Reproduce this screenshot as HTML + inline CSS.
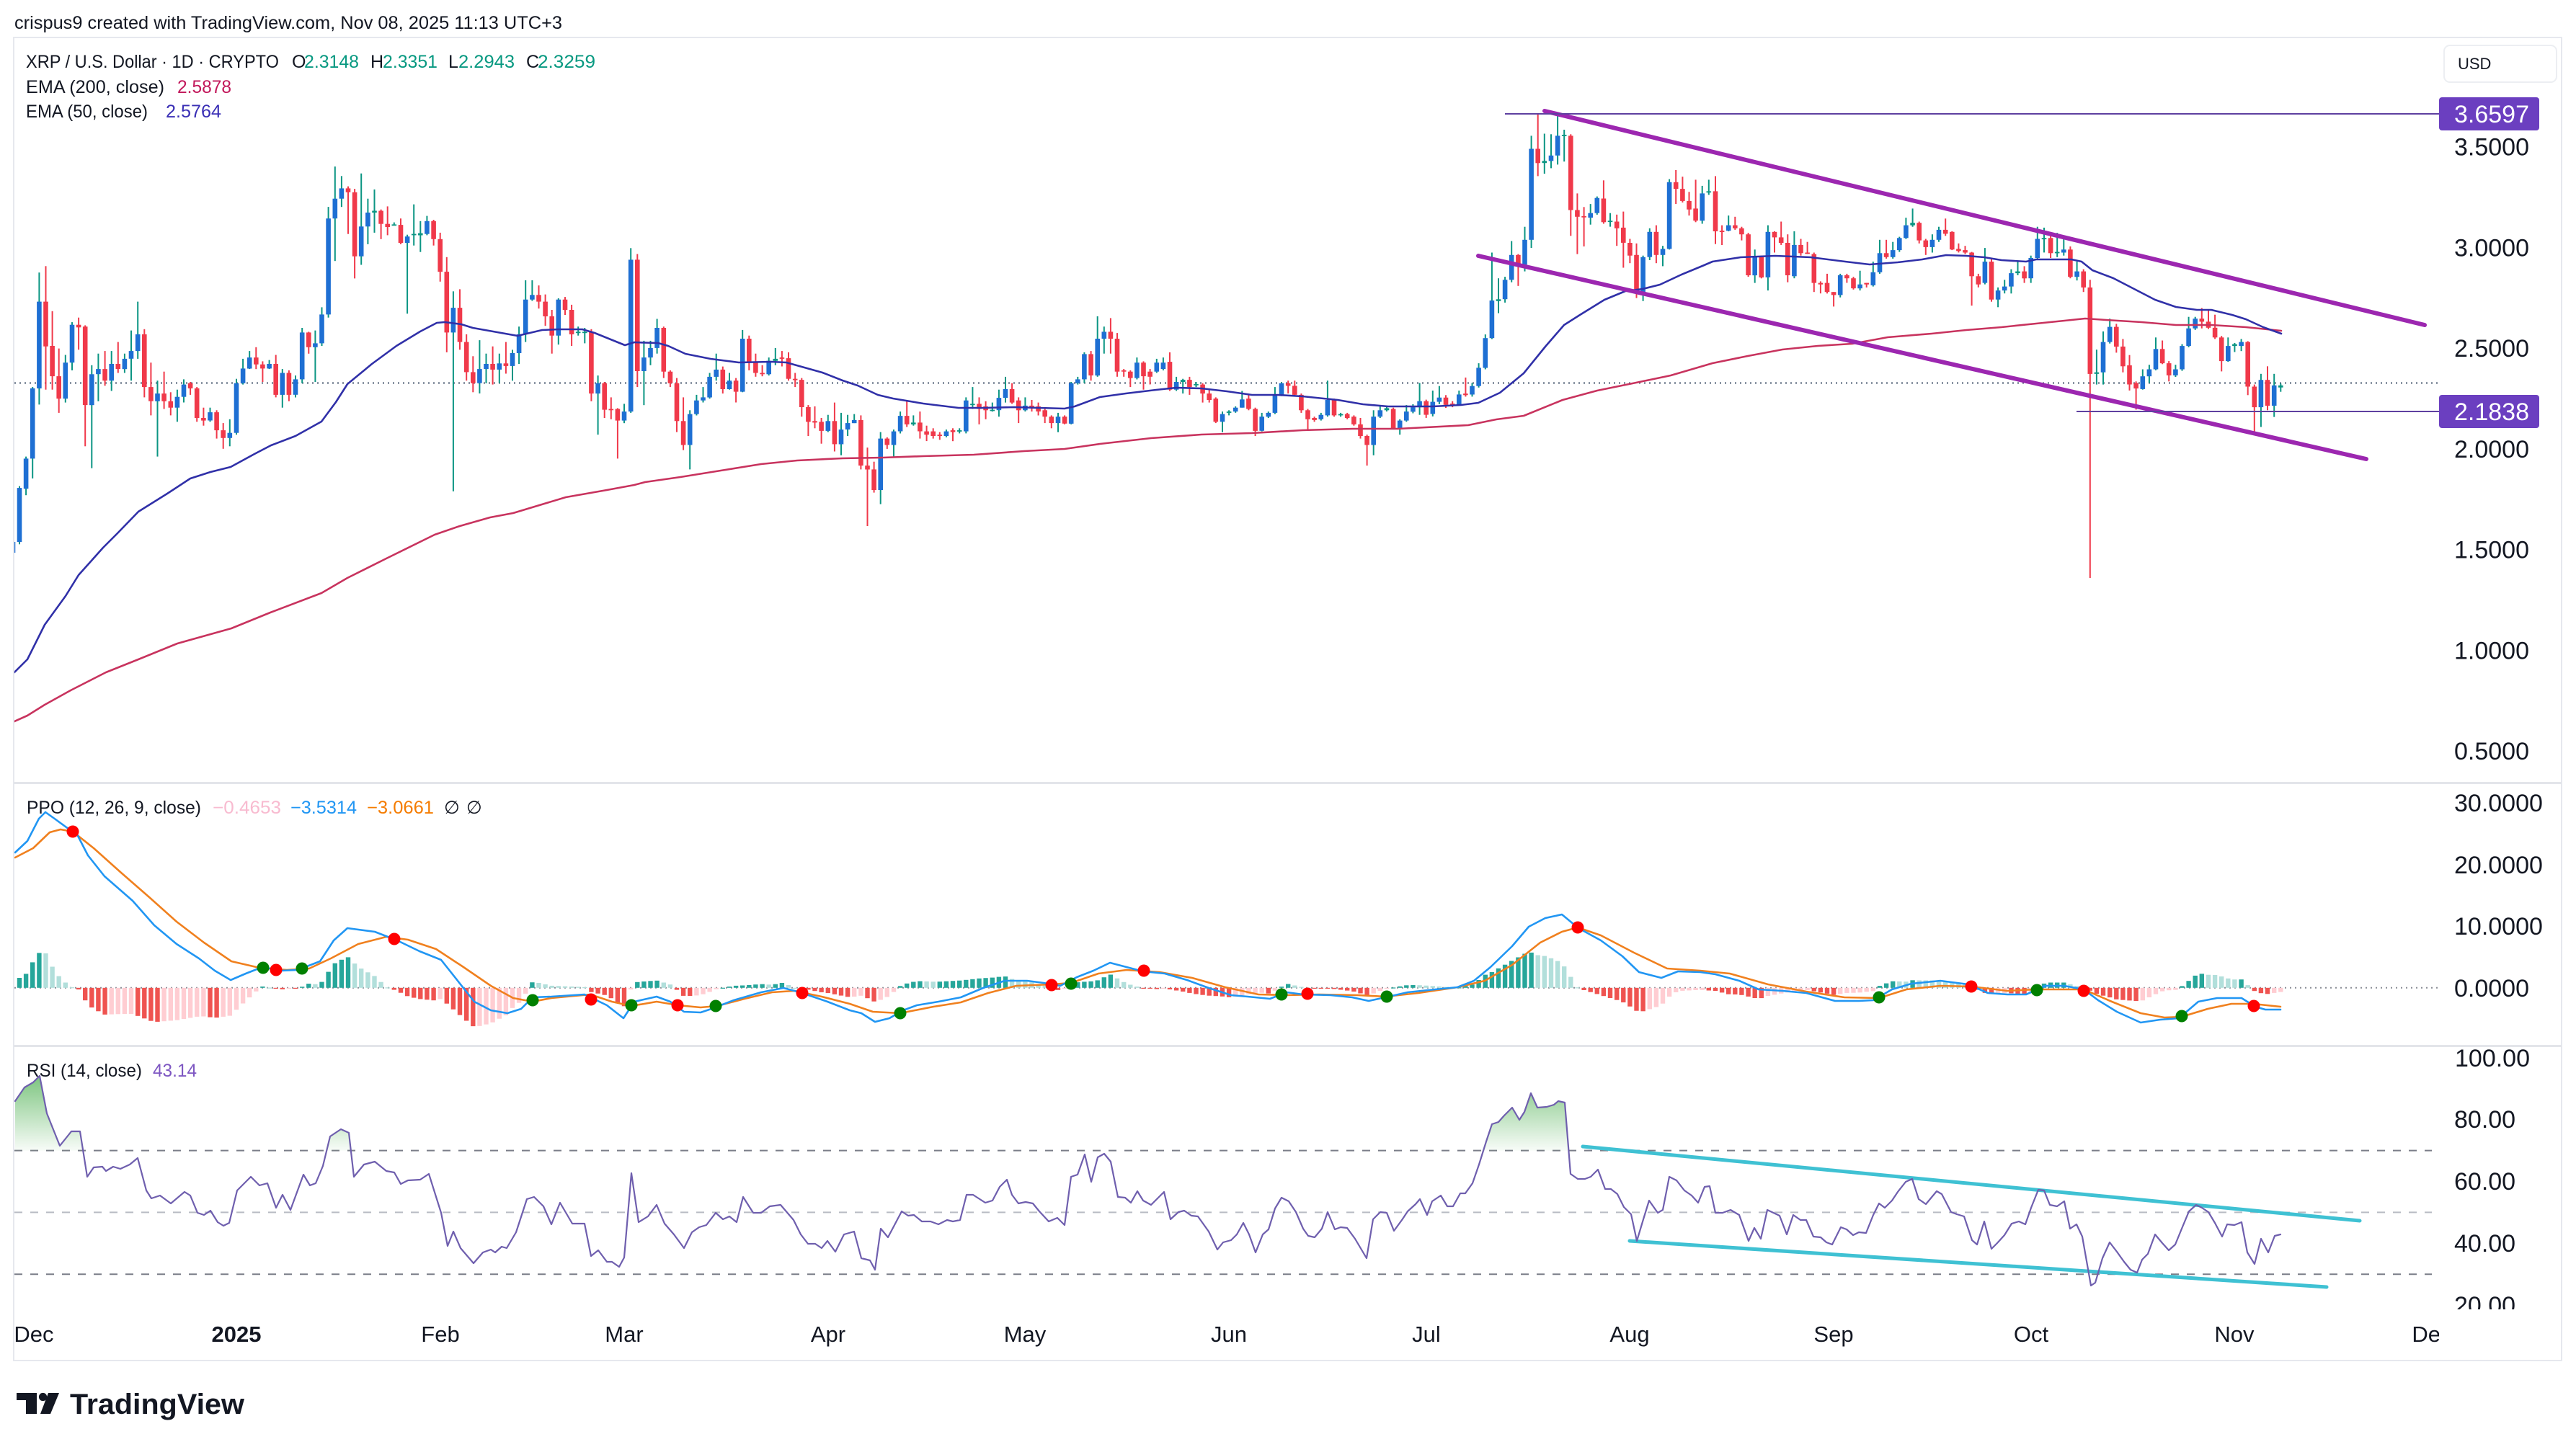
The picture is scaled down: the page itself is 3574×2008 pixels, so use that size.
<!DOCTYPE html>
<html><head><meta charset="utf-8">
<style>
html,body{margin:0;padding:0;background:#fff;}
body{width:3574px;height:2008px;overflow:hidden;position:relative;}
svg{position:absolute;left:0;top:0;}
</style></head><body>
<svg id="c" width="3574" height="2008" viewBox="0 0 3574 2008" xmlns="http://www.w3.org/2000/svg" font-family="'Liberation Sans', Arial, sans-serif">
<defs>
<clipPath id="cm"><rect x="20" y="53" width="3364" height="1033"/></clipPath>
<clipPath id="cp"><rect x="20" y="1088" width="3364" height="362"/></clipPath>
<clipPath id="cr"><rect x="20" y="1453" width="3364" height="364"/></clipPath>
<clipPath id="cra"><rect x="3386" y="1453" width="166" height="364"/></clipPath>
<clipPath id="cob"><rect x="20" y="1453" width="3364" height="143.6"/></clipPath>
<clipPath id="cx"><rect x="0" y="1820" width="3384" height="66"/></clipPath>
<linearGradient id="gg" x1="0" y1="1490" x2="0" y2="1597" gradientUnits="userSpaceOnUse">
<stop offset="0" stop-color="#4caf50" stop-opacity="0.75"/><stop offset="1" stop-color="#4caf50" stop-opacity="0.04"/></linearGradient>
</defs>
<rect x="0" y="0" width="3574" height="2008" fill="#fff"/>
<rect x="19" y="52" width="3535" height="1836" fill="none" stroke="#e6e8ee" stroke-width="2"/>
<line x1="19" y1="1086.5" x2="3554" y2="1086.5" stroke="#e3e5ea" stroke-width="3"/>
<line x1="19" y1="1451.5" x2="3554" y2="1451.5" stroke="#e3e5ea" stroke-width="3"/>

<text x="20" y="40" font-size="25" fill="#131722" textLength="760" lengthAdjust="spacingAndGlyphs">crispus9 created with TradingView.com, Nov 08, 2025 11:13 UTC+3</text>

<g font-size="25" fill="#131722">
<text x="36" y="94" textLength="351" lengthAdjust="spacingAndGlyphs">XRP / U.S. Dollar · 1D · CRYPTO</text>
<text x="405" y="94">O</text><text x="422" y="94" fill="#089981" textLength="76" lengthAdjust="spacingAndGlyphs">2.3148</text>
<text x="514" y="94">H</text><text x="531" y="94" fill="#089981" textLength="76" lengthAdjust="spacingAndGlyphs">2.3351</text>
<text x="622" y="94">L</text><text x="636" y="94" fill="#089981" textLength="78" lengthAdjust="spacingAndGlyphs">2.2943</text>
<text x="730" y="94">C</text><text x="746" y="94" fill="#089981" textLength="80" lengthAdjust="spacingAndGlyphs">2.3259</text>
<text x="36" y="129" textLength="192" lengthAdjust="spacingAndGlyphs">EMA (200, close)</text>
<text x="246" y="129" fill="#c2185b" textLength="75" lengthAdjust="spacingAndGlyphs">2.5878</text>
<text x="36" y="163" textLength="169" lengthAdjust="spacingAndGlyphs">EMA (50, close)</text>
<text x="230" y="163" fill="#3a2fb5" textLength="77" lengthAdjust="spacingAndGlyphs">2.5764</text>

<text x="37" y="1129" textLength="242" lengthAdjust="spacingAndGlyphs">PPO (12, 26, 9, close)</text>
<text x="295" y="1129" fill="#f8bbd0" textLength="95" lengthAdjust="spacingAndGlyphs">−0.4653</text>
<text x="403" y="1129" fill="#2196f3" textLength="92" lengthAdjust="spacingAndGlyphs">−3.5314</text>
<text x="509" y="1129" fill="#f57c00" textLength="93" lengthAdjust="spacingAndGlyphs">−3.0661</text>
<text x="616" y="1129">∅</text><text x="647" y="1129">∅</text>
<text x="37" y="1494" textLength="160" lengthAdjust="spacingAndGlyphs">RSI (14, close)</text>
<text x="212" y="1494" fill="#7e57c2" textLength="61" lengthAdjust="spacingAndGlyphs">43.14</text>
</g>

<!-- USD box -->
<rect x="3391" y="63" width="156" height="51" rx="8" fill="#fff" stroke="#eceef2" stroke-width="2"/>
<text x="3410" y="96" font-size="22" fill="#131722">USD</text>

<!-- price axis labels -->
<g font-size="34" fill="#131722">
<text x="3405" y="215.7">3.5000</text>
<text x="3405" y="355.5">3.0000</text>
<text x="3405" y="495.2">2.5000</text>
<text x="3405" y="635">2.0000</text>
<text x="3405" y="774.7">1.5000</text>
<text x="3405" y="914.5">1.0000</text>
<text x="3405" y="1054.2">0.5000</text>
<text x="3405" y="1126">30.0000</text>
<text x="3405" y="1212">20.0000</text>
<text x="3405" y="1297">10.0000</text>
<text x="3405" y="1383">0.0000</text>
<g clip-path="url(#cra)">
<text x="3406" y="1480">100.00</text>
<text x="3405" y="1565">80.00</text>
<text x="3405" y="1651">60.00</text>
<text x="3405" y="1737">40.00</text>
<text x="3405" y="1823">20.00</text>
</g>
</g>

<!-- time axis -->
<g font-size="31" fill="#131722" text-anchor="middle" clip-path="url(#cx)">
<text x="47" y="1862">Dec</text>
<text x="328" y="1862" font-weight="bold">2025</text>
<text x="611" y="1862">Feb</text>
<text x="866" y="1862">Mar</text>
<text x="1149" y="1862">Apr</text>
<text x="1422" y="1862">May</text>
<text x="1705" y="1862">Jun</text>
<text x="1979" y="1862">Jul</text>
<text x="2261" y="1862">Aug</text>
<text x="2544" y="1862">Sep</text>
<text x="2818" y="1862">Oct</text>
<text x="3100" y="1862">Nov</text>
<text x="3374" y="1862">Dec</text>
</g>

<!-- logo -->
<g fill="#131722">
<rect x="23" y="1933" width="28" height="10"/>
<rect x="36" y="1933" width="15" height="29"/>
<circle cx="59.5" cy="1938.5" r="5.6"/>
<polygon points="67,1933 82,1933 70,1962 56,1962"/>
<text x="97" y="1962" font-size="40" font-weight="bold" textLength="242" lengthAdjust="spacingAndGlyphs">TradingView</text>
</g>

<!-- static pane lines -->
<line x1="20" y1="531.5" x2="3384" y2="531.5" stroke="#4a5a70" stroke-width="2" stroke-dasharray="2 5"/>
<line x1="20" y1="1370.8" x2="3383" y2="1370.8" stroke="#8a8d96" stroke-width="2" stroke-dasharray="2 5"/>
<line x1="20" y1="1596.6" x2="3374" y2="1596.6" stroke="#7b7e88" stroke-width="2" stroke-dasharray="11 11"/>
<line x1="20" y1="1682.4" x2="3374" y2="1682.4" stroke="#b9bcc4" stroke-width="2" stroke-dasharray="11 11"/>
<line x1="20" y1="1768.2" x2="3374" y2="1768.2" stroke="#7b7e88" stroke-width="2" stroke-dasharray="11 11"/>

<g id="dyn"></g>

<!-- price labels -->
<line x1="2088" y1="158" x2="3384" y2="158" stroke="#5e40a0" stroke-width="2"/>
<line x1="2881" y1="571" x2="3384" y2="571" stroke="#5e40a0" stroke-width="2"/>
<rect x="3384" y="135" width="139" height="46" rx="4" fill="#6b3fc0"/>
<text x="3405" y="170" font-size="34" fill="#fff">3.6597</text>
<rect x="3384" y="548" width="139" height="46" rx="4" fill="#6b3fc0"/>
<text x="3405" y="583" font-size="34" fill="#fff">2.1838</text>
</svg>
<script>
(function(){
var g=document.getElementById('dyn');
var h='';
function X(i){return 27+(i-1)*9.12;}
function candles(str,base,k,start){
  var items=str.split(';');var n=0;
  for(var j=0;j<items.length;j++){var t=items[j].trim();if(!t)continue;var p=t.split(',');
    var i=start+n;n++;var x=X(i);var up=p[0]=='u';
    var bt=base+k*(+p[1]),bb=base+k*(+p[2]),wt=base+k*(+p[3]),wb=base+k*(+p[4]);
    var wc=up?'#0b9583':'#f0394a',bc=up?'#1e6fd3':'#f0394a';
    var hh=Math.max(bb-bt,1.8);
    if(up&&hh<4)bc='#0b9583';
    h+='<rect x="'+(x-1).toFixed(1)+'" y="'+wt.toFixed(1)+'" width="2" height="'+(wb-wt).toFixed(1)+'" fill="'+wc+'"/>';
    h+='<rect x="'+(x-3.3).toFixed(1)+'" y="'+bt.toFixed(1)+'" width="6.6" height="'+hh.toFixed(1)+'" fill="'+bc+'"/>';
  }
}
var A="u,1392,1602,1385,1611;u,1278,1395,1270,1420;u,1005,1278,1000,1355;u,668,1005,555,1068;d,668,842,530,1010;d,840,958,705,1010;d,958,1045,850,1100;u,905,1045,875,1060;u,758,905,748,935;d,758,768,730,855;d,765,1070,760,1230;u,950,1070,915,1315;u,930,950,870,1055;d,930,975,860,995;u,910,975,860,1015;d,910,930,825,945;u,890,930,870,945;u,860,890,780,975;u,795,860,668,890;d,795,1000,775,1040;d,1000,1055,905,1110;u,1025,1055,975,1270;d,1025,1055,940,1085;d,1055,1080,1020,1110;u,1038,1080,1010,1135;u,990,1038,970,1060;d,985,1005,980,1030;d,1005,1120,1000,1135;d,1120,1130,1080,1150;u,1098,1130,1080,1135;d,1098,1168,1090,1200;d,1168,1198,1140,1240;u,1178,1198,1125,1230;u,985,1178,968,1185;u,928,985,890,990;u,885,928,860,930;d,885,912,845,930;d,912,928,900,980;u,910,928,895,930;d,910,1030,875,1040;u,945,1030,930,1080;d,945,1030,935,1055;u,970,1030,955,1040;u,788,970,770,985;d,788,845,785,870;u,830,845,780,980;u,718,830,690,840;u,345,718,300,730;u,268,345,143,510;u,228,268,180,300;d,228,243,220,405;d,243,492,230,578;u,376,492,170,525;u,322,376,268,445;u,315,322,232,400;d,315,366,310,425;d,366,378,298,410;u,368,371,360,372;d,370,440,345,445;u,415,440,408,715;u,405,410,290,450;u,402,410,355,475;u,355,405,335,410;d,355,425,350,450;d,425,552,400,590;d,552,788,495,865;u,692,788,628,1405;d,692,825,620,855;d,825,942,795,975;d,942,985,880,1020;u,930,985,818,1025;u,910,930,870,985;d,910,932,842,990;u,908,932,870,985;d,908,918,825,948;u,868,918,855,975;u,795,868,765,910;u,660,795,585,825;u,642,660,585,665;d,642,668,605,695;d,668,725,640,762;d,725,800,700,870;u,660,800,655,835;d,660,700,650,720;d,700,795,680,840;u,785,790,765,800;u,785,790,770,830;d,785,1025,775,1055;u,985,1025,955,1185;d,985,1088,980,1120;d,1085,1090,1040,1125;d,1085,1130,1082,1278;u,1095,1130,1065,1140;u,505,1095,460,1100;"+
"d,505,938,483,1000;u,885,938,820,1070;u,848,885,820,915;u,770,848,735,870;d,770,940,765,965;d,940,985,935,1000;d,985,1132,965,1175;d,1132,1225,1040,1245;u,1105,1225,1090,1320;u,1052,1105,1030,1110;u,1040,1052,1000,1060;u,960,1040,945,1045;u,932,960,870,975;d,932,1008,920,1025;u,975,1008,945,1010;d,975,1018,965,1060;u,812,1018,778,1020;d,812,902,800,935;d,902,945,870,960;d,945,950,915,958;u,898,950,885,955;u,890,898,848,915;d,885,890,860,920;d,888,968,865,975;d,968,972,945,1000;d,972,1078,965,1115;d,1078,1135,1070,1190;d,1132,1138,1075,1160;d,1135,1170,1120,1220;u,1132,1170,1108,1175;d,1132,1222,1060,1250;u,1165,1222,1100,1265;u,1140,1165,1108,1190;u,1128,1140,1105,1140;d,1128,1305,1110,1320;d,1305,1320,1235,1540;d,1320,1400,1290,1410;u,1200,1400,1175,1455;d,1200,1225,1195,1240;u,1172,1225,1165,1275;u,1112,1172,1095,1180;d,1112,1145,1050,1155;u,1138,1145,1110,1150;d,1138,1172,1095,1200;d,1172,1185,1150,1210;d,1172,1190,1160,1200;d,1185,1190,1175,1205;u,1172,1190,1165,1195;d,1168,1175,1160,1210;u,1168,1172,1160,1180;u,1052,1172,1040,1180;u,1065,1070,1000,1085;d,1065,1085,1040,1145;d,1075,1090,1055,1125;u,1088,1092,1060,1095;u,1042,1090,1010,1115;u,1008,1042,960,1060;d,1008,1060,985,1065;d,1052,1090,1040,1140;u,1072,1090,1040,1095;d,1072,1078,1050,1095;d,1075,1095,1060,1110;d,1090,1115,1085,1140;d,1115,1140,1110,1160;u,1115,1140,1100,1175;d,1115,1142,1110,1145;u,985,1142,980,1145;u,970,985,960,990;u,872,970,865,985;d,872,955,860,975;u,812,955,725,960;u,785,812,765,870;d,785,812,732,870;d,812,940,790,960;d,935,940,930,960;d,940,965,935,1000;u,905,965,885,970;d,905,958,900,1010;d,940,960,930,990;u,905,940,890,945;u,905,930,885,935;d,902,1010,865,1015;u,980,1010,960,1015;u,972,980,968,1025;d,972,1000,960,1030;u,988,992,980,1000;d,990,1025,985,1060;d,1025,1050,1010,1060;d,1045,1135,1040,1140;u,1105,1135,1095,1175;u,1095,1100,1090,1110;u,1080,1095,1075,1100;u,1048,1080,1015,1080;d,1045,1085,1030,1090;d,1085,1170,1080,1190;u,1115,1170,1100,1172;u,1100,1115,1095,1120;u,1030,1100,1000,1105;u,985,1030,980,1035;d,985,995,975,1025;d,995,1030,975,1035;d,1030,1090,1025,1100;d,1090,1125,1085,1170;d,1120,1128,1115,1135;u,1108,1125,1100,1130;u,1050,1110,975,1115;d,1050,1110,1045,1115;u,1105,1110,1100,1115;d,1105,1120,1100,1125;d,1115,1145,1110,1150;d,1145,1190,1120,1200;d,1190,1225,1185,1305;u,1115,1225,1090,1265;u,1090,1115,1070,1120;u,1082,1090,1075,1095;d,1085,1160,1080,1165;u,1130,1160,1125,1185;u,1095,1130,1070,1135";
var B="u,1010,1025,1000,1030;u,990,1010,930,1035;d,990,1035,985,1045;u,992,1032,955,1040;u,978,992,940,1000;d,978,1002,970,1012;d,998,1002,990,1010;u,968,1002,955,1005;d,965,970,912,975;u,940,968,930,975;u,880,940,865,945;u,782,880,770,885;u,658,782,500,785;u,654,660,585,700;u,590,654,580,665;u,508,590,462,598;d,508,540,505,610;u,458,540,415,562;u,158,458,115,485;d,158,205,42,248;u,198,205,108,240;u,180,198,110,222;u,115,180,42,210;u,112,115,95,200;d,115,360,110,445;d,360,382,305,505;d,380,382,350,480;u,370,385,340,408;u,320,370,315,375;d,322,400,262,405;u,395,397,370,415;d,398,420,375,478;d,418,468,365,550;d,468,510,455,535;d,508,635,470,650;u,515,635,510,660;u,432,515,420,525;d,432,508,410,535;u,488,508,478,545;u,268,488,258,490;d,268,290,228,340;d,290,330,250,335;d,330,358,300,378;d,355,395,260,400;u,305,395,280,405;u,298,300,260,310;d,298,430,248,472;d,428,430,410,475;u,410,428,378,430;d,410,420,382,425;d,420,440,415,460;d,440,575,435,580;u,515,575,490,600;d,515,582,510,585;u,432,582,410,625;d,432,450,430,500;d,450,468,398,475;d,468,575,440,598;u,475,578,430,585;d,475,502,455,510;d,500,502,465,505;d,505,600,500,630;d,600,605,595,635;d,600,630,570,635;d,630,640,630,678;u,575,640,570,648;d,575,585,570,600;d,585,618,580,622;u,605,618,560,625;d,600,605,600,615;u,565,608,530,612;u,502,565,458,570;d,502,515,458,520;u,492,515,465,520;u,452,492,448,498;u,410,452,385,455;u,402,410,355,415;d,402,460,398,470;d,460,482,455,508;u,458,482,440,500;u,425,458,415,465;d,425,438,388,445;"+
"d,432,490,430,492;d,488,495,470,500;d,492,500,478,505;d,500,578,498,675;d,578,605,570,615;u,530,600,485,605;d,530,655,520,662;u,625,655,615,680;u,612,625,590,635;u,568,612,555,635;u,562,568,530,575;d,562,585,545,600;u,518,585,510,600;u,455,518,415,520;u,452,455,418,500;d,452,502,440,518;u,498,500,435,515;u,490,500,450,510;d,490,580,480,585;u,562,580,530,592;d,562,615,555,630;d,615,900,590,1573;u,895,900,820,935;u,795,895,760,935;u,745,795,718,800;d,745,810,735,830;d,810,875,785,895;d,872,935,838,955;d,930,948,925,1018;u,908,950,885,952;u,885,908,870,930;u,818,885,780,888;d,818,865,790,868;d,865,905,858,925;u,885,905,870,910;u,808,885,802,890;u,750,808,712,812;u,718,750,712,755;d,718,728,683,750;d,728,748,690,752;d,748,780,705,785;d,780,858,775,892;u,808,858,780,860;u,802,808,798,828;u,795,808,785,825;d,795,942,792,970;d,942,1010,935,1098;u,920,1010,900,1075;d,920,1005,875,1020;u,938,1005,900,1042;u,938,945,932,959";

var main='';
// candle 0 (clipped)
h+='<rect x="17" y="750" width="2" height="22" fill="#0b9583"/><rect x="14.7" y="752" width="6.6" height="15" fill="#1e6fd3"/>';
candles(A,180,560/1568,1);
candles(B,140,660/1568,213);
main=h;h='';

function P(s){return s.trim().split(/\s+/).map(function(t){var a=t.split(',');return [+a[0],+a[1]];});}
function pl(pts,col,w){return '<polyline points="'+pts.map(function(p){return p[0]+','+p[1];}).join(' ')+'" fill="none" stroke="'+col+'" stroke-width="'+w+'" stroke-linejoin="round" stroke-linecap="round"/>';}
function interp(pts,x){if(x<=pts[0][0])return pts[0][1];for(var j=1;j<pts.length;j++){if(x<=pts[j][0]){var a=pts[j-1],b=pts[j];return a[1]+(b[1]-a[1])*(x-a[0])/(b[0]-a[0]);}}return pts[pts.length-1][1];}

var e50=P("20,933 38,915 62,867 91,827 109,798 143,760 163,740 192,710 232,685 264,664 292,655 320,648 353,630 376,618 410,605 446,585 466,558 482,533 516,505 550,480 583,460 606,448 617,447 640,450 656,455 718,466 752,458 774,457 808,457 825,462 867,479 880,475 913,476 927,480 951,491 986,498 1025,503 1070,502 1091,503 1141,517 1169,528 1190,535 1218,548 1239,553 1281,560 1330,566 1365,566 1407,565 1442,566 1477,567 1491,564 1526,551 1562,546 1604,541 1632,538 1667,539 1702,543 1737,548 1772,548 1807,550 1856,555 1891,561 1926,564 1960,564 1988,564 2027,562 2051,559 2081,545 2114,518 2144,481 2170,451 2192,437 2226,416 2255,404 2279,401 2303,395 2333,381 2362,369 2376,363 2415,357 2463,355 2512,357 2560,363 2594,367 2633,364 2667,360 2700,354 2728,355 2753,357 2777,361 2811,363 2825,360 2874,360 2888,363 2903,375 2932,386 2961,401 2990,416 3019,426 3048,430 3068,430 3097,437 3116,443 3140,454 3165,463");
var e200=P("20,1001 38,993 62,978 98,958 147,933 192,915 246,893 321,872 375,850 446,823 482,802 536,775 603,742 638,730 680,718 712,712 785,690 842,680 880,673 895,669 944,662 1000,653 1056,644 1106,639 1169,636 1225,635 1281,633 1351,631 1421,626 1477,623 1526,616 1597,608 1667,603 1737,601 1807,597 1877,595 1940,595 2037,590 2076,582 2114,577 2168,555 2216,542 2270,531 2318,521 2376,504 2425,494 2473,485 2522,480 2570,477 2619,468 2680,463 2728,458 2777,454 2825,449 2874,444 2893,442 2922,444 2971,447 3019,451 3068,451 3116,454 3165,459");
main+=pl(e200,'#c8335e',2.6)+pl(e50,'#3030a8',2.6);
main+='<line x1="2143" y1="154" x2="3364" y2="451" stroke="#9c27b0" stroke-width="6" stroke-linecap="round"/>';
main+='<line x1="2051" y1="355" x2="3283" y2="637" stroke="#9c27b0" stroke-width="6" stroke-linecap="round"/>';
var gm='<g clip-path="url(#cm)">'+main+'</g>';

// PPO
var ppo=P("21,1183 38,1167 54,1136 63,1127 77,1137 92,1148 107,1158 122,1187 145,1216 184,1250 214,1284 245,1310 276,1330 298,1347 320,1360 341,1351 364,1342 390,1347 413,1346 444,1334 463,1305 482,1288 520,1293 551,1305 582,1320 612,1332 635,1361 658,1390 681,1402 704,1406 723,1400 739,1384 765,1383 811,1380 842,1395 865,1413 880,1390 911,1383 930,1390 949,1404 972,1405 987,1400 1018,1388 1056,1377 1087,1371 1110,1377 1148,1390 1179,1402 1195,1406 1214,1418 1234,1413 1253,1402 1272,1395 1302,1390 1333,1384 1364,1371 1394,1361 1425,1361 1448,1364 1471,1368 1494,1356 1517,1347 1540,1336 1563,1342 1586,1348 1616,1351 1647,1360 1677,1371 1708,1381 1731,1383 1762,1386 1785,1377 1808,1380 1846,1381 1876,1384 1899,1389 1922,1384 1953,1377 1991,1373 2022,1370 2045,1361 2068,1342 2098,1313 2121,1286 2144,1274 2167,1269 2190,1288 2221,1305 2251,1327 2274,1349 2305,1357 2328,1348 2359,1349 2380,1352 2413,1361 2440,1373 2473,1375 2506,1378 2546,1389 2579,1389 2599,1388 2625,1373 2652,1365 2692,1361 2731,1366 2758,1378 2785,1380 2811,1380 2838,1368 2864,1368 2891,1373 2911,1388 2937,1404 2970,1419 2997,1415 3023,1413 3050,1390 3076,1385 3110,1385 3129,1397 3143,1401 3164,1401");
var sig=P("21,1190 46,1177 69,1155 84,1151 101,1154 130,1177 168,1211 207,1245 245,1279 283,1308 321,1334 360,1343 398,1346 429,1344 459,1330 497,1310 536,1300 566,1304 605,1317 643,1342 681,1368 712,1385 739,1390 765,1385 819,1380 849,1390 876,1396 911,1390 941,1395 972,1398 995,1396 1033,1386 1071,1377 1102,1375 1140,1383 1179,1393 1211,1404 1249,1406 1295,1397 1333,1391 1371,1378 1410,1368 1459,1366 1486,1364 1524,1351 1563,1346 1609,1349 1654,1357 1700,1370 1746,1380 1785,1381 1830,1380 1884,1381 1922,1383 1968,1378 2022,1370 2060,1361 2098,1339 2137,1308 2167,1293 2189,1287 2221,1298 2267,1322 2313,1344 2359,1347 2400,1351 2453,1366 2506,1376 2559,1384 2607,1385 2645,1373 2692,1368 2735,1369 2785,1375 2824,1373 2891,1373 2930,1390 2970,1406 3003,1412 3027,1411 3063,1400 3096,1393 3126,1393 3164,1397");
var hp='';var prev=0;
for(var i=1;i<=345;i++){var x=X(i);var d=1.45*(interp(sig,x)-interp(ppo,x));var col;
  if(d>=0){col=(d>=prev)?'#26a69a':'#b2dfdb';}else{col=(d<prev)?'#ef5350':'#ffcdd2';}
  var y=d>=0?1370.8-d:1370.8;var hh=Math.max(Math.abs(d),1.2);
  hp+='<rect x="'+(x-3.2).toFixed(1)+'" y="'+y.toFixed(1)+'" width="6.4" height="'+hh.toFixed(1)+'" fill="'+col+'"/>';prev=d;}
hp+=pl(sig,'#f0801e',2.6)+pl(ppo,'#2196f3',2.6);
var dots=[[101,1154,'r'],[365,1343,'g'],[383,1346,'r'],[419,1344,'g'],[547,1303,'r'],[739,1388,'g'],[820,1387,'r'],[876,1395,'g'],[940,1395,'r'],[993,1396,'g'],[1113,1378,'r'],[1249,1406,'g'],[1459,1367,'r'],[1486,1365,'g'],[1587,1347,'r'],[1778,1380,'g'],[1814,1379,'r'],[1924,1383,'g'],[2189,1287,'r'],[2607,1384,'g'],[2735,1369,'r'],[2826,1374,'g'],[2891,1375,'r'],[3027,1410,'g'],[3127,1396,'r']];
dots.forEach(function(d){hp+='<circle cx="'+d[0]+'" cy="'+d[1]+'" r="8.5" fill="'+(d[2]=='r'?'#ff0000':'#008000')+'"/>';});
var gp='<g clip-path="url(#cp)">'+hp+'</g>';

// RSI
var rsi=P("21,1528 34,1509 46,1502 55,1493 65,1545 83,1590 99,1570 111,1570 121,1633 130,1620 142,1619 147,1625 157,1619 167,1622 180,1616 191,1607 203,1652 210,1663 222,1659 237,1670 256,1654 264,1659 274,1683 283,1686 292,1680 302,1696 310,1701 318,1697 329,1652 348,1633 360,1645 371,1642 383,1676 392,1658 403,1679 421,1630 430,1645 438,1642 448,1618 458,1577 473,1567 484,1572 491,1633 505,1616 520,1612 536,1625 547,1627 556,1643 566,1638 583,1637 595,1629 612,1683 621,1729 629,1709 639,1732 657,1753 670,1738 681,1734 687,1738 696,1730 703,1732 716,1710 731,1664 741,1661 754,1674 765,1699 777,1669 794,1698 811,1698 820,1743 830,1735 842,1751 849,1751 859,1758 866,1745 876,1628 886,1696 899,1688 911,1672 922,1698 935,1713 949,1732 960,1710 970,1703 980,1700 993,1683 1003,1692 1012,1688 1022,1696 1031,1661 1045,1683 1056,1683 1068,1674 1083,1672 1101,1693 1111,1713 1121,1726 1131,1726 1140,1732 1148,1722 1159,1737 1171,1713 1185,1709 1195,1746 1207,1749 1214,1762 1222,1705 1232,1717 1241,1700 1251,1681 1260,1687 1268,1686 1279,1695 1291,1695 1302,1699 1314,1693 1322,1695 1332,1693 1341,1658 1350,1658 1367,1669 1377,1666 1387,1647 1397,1637 1404,1658 1413,1670 1423,1668 1433,1670 1442,1681 1455,1695 1467,1690 1477,1700 1486,1633 1495,1630 1505,1602 1514,1640 1523,1606 1532,1601 1541,1612 1551,1661 1561,1662 1569,1669 1578,1653 1586,1666 1597,1672 1615,1654 1624,1692 1635,1682 1643,1680 1653,1687 1662,1688 1677,1709 1689,1734 1697,1724 1708,1721 1716,1713 1725,1697 1733,1713 1742,1738 1752,1713 1760,1706 1769,1677 1778,1662 1788,1667 1798,1682 1808,1705 1815,1715 1824,1717 1834,1705 1842,1682 1852,1706 1860,1703 1869,1704 1880,1719 1896,1746 1905,1692 1915,1682 1924,1683 1934,1708 1945,1693 1953,1681 1964,1671 1970,1664 1980,1686 1987,1667 1999,1659 2008,1674 2016,1674 2026,1656 2033,1656 2043,1642 2052,1616 2062,1584 2070,1560 2079,1557 2087,1548 2098,1537 2108,1554 2115,1543 2124,1517 2133,1537 2146,1536 2156,1533 2162,1528 2171,1530 2179,1629 2189,1636 2199,1636 2207,1633 2217,1623 2227,1650 2235,1650 2244,1657 2253,1675 2263,1685 2271,1722 2280,1692 2288,1666 2300,1683 2307,1679 2316,1633 2326,1638 2337,1652 2347,1659 2356,1669 2365,1647 2372,1646 2380,1683 2390,1683 2401,1679 2413,1686 2426,1722 2434,1704 2443,1719 2452,1679 2469,1687 2479,1713 2488,1686 2498,1693 2506,1693 2516,1716 2526,1717 2534,1724 2542,1727 2554,1703 2562,1706 2571,1714 2579,1710 2589,1711 2599,1686 2607,1670 2615,1676 2625,1666 2633,1654 2644,1640 2653,1636 2662,1664 2672,1671 2687,1653 2694,1657 2707,1682 2715,1685 2725,1688 2736,1721 2743,1727 2753,1695 2763,1733 2771,1725 2781,1714 2791,1698 2801,1695 2810,1699 2818,1676 2828,1651 2836,1652 2844,1672 2854,1674 2864,1667 2872,1705 2881,1699 2889,1716 2901,1784 2907,1780 2917,1746 2927,1724 2937,1737 2947,1751 2956,1762 2965,1766 2972,1748 2980,1740 2990,1713 3000,1725 3009,1735 3018,1727 3027,1705 3037,1681 3047,1672 3055,1676 3064,1682 3073,1697 3083,1716 3090,1699 3100,1700 3110,1696 3118,1738 3128,1754 3137,1719 3147,1738 3156,1715 3164,1713");
var hr='<polygon points="'+rsi.map(function(p){return p[0]+','+p[1];}).join(' ')+' 3164,1597 21,1597" fill="url(#gg)" clip-path="url(#cob)"/>';
hr+='<line x1="2196" y1="1591" x2="3274" y2="1694" stroke="#3fc1d3" stroke-width="5" stroke-linecap="round"/>';
hr+='<line x1="2261" y1="1722" x2="3228" y2="1786" stroke="#3fc1d3" stroke-width="5" stroke-linecap="round"/>';
hr+=pl(rsi,'#6f5fae',2.2);
var gr='<g clip-path="url(#cr)">'+hr+'</g>';

g.innerHTML=gm+gp+gr;
})();
</script>
</body></html>
